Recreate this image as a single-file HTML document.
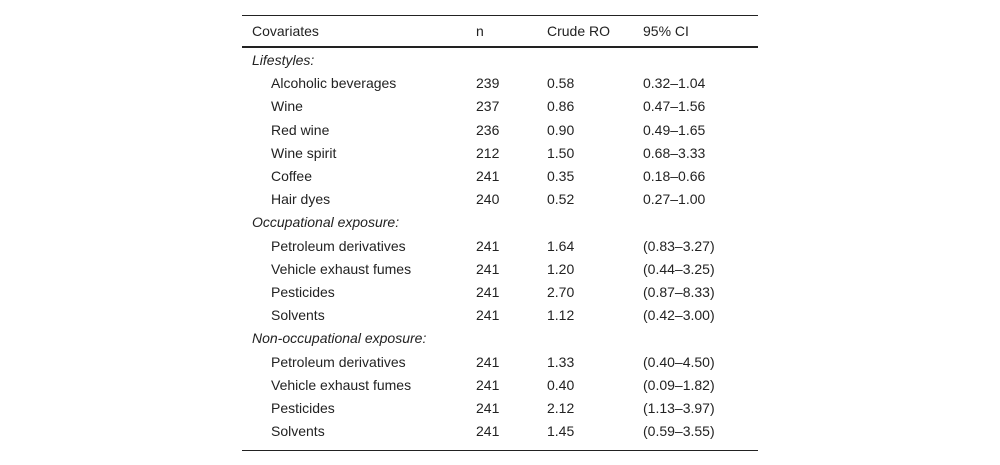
<!DOCTYPE html>
<html><head><meta charset="utf-8"><style>
body{margin:0;width:1000px;height:465px;background:#fff;font-family:"Liberation Sans",sans-serif;font-size:14px;color:#222;position:relative;overflow:hidden}
.l{position:absolute;left:242px;width:516px;background:#222}
.r{position:absolute;left:0;width:1000px;height:23px;line-height:23px}
.r span{position:absolute;white-space:nowrap}
.c0{left:252px}.c0i{left:271px}.c1{left:476px}.c2{left:547px}.c3{left:643px}
i{font-style:italic}
</style></head><body>
<div class="l" style="top:15px;height:1px"></div>
<div class="l" style="top:46px;height:2px"></div>
<div class="l" style="top:450px;height:1px"></div>
<div class="r" style="top:20px"><span class="c0">Covariates</span><span class="c1">n</span><span class="c2">Crude RO</span><span class="c3">95% CI</span></div>
<div id="rows"></div>
<script>
const rows=[
["g","Lifestyles:"],
["Alcoholic beverages","239","0.58","0.32–1.04"],
["Wine","237","0.86","0.47–1.56"],
["Red wine","236","0.90","0.49–1.65"],
["Wine spirit","212","1.50","0.68–3.33"],
["Coffee","241","0.35","0.18–0.66"],
["Hair dyes","240","0.52","0.27–1.00"],
["g","Occupational exposure:"],
["Petroleum derivatives","241","1.64","(0.83–3.27)"],
["Vehicle exhaust fumes","241","1.20","(0.44–3.25)"],
["Pesticides","241","2.70","(0.87–8.33)"],
["Solvents","241","1.12","(0.42–3.00)"],
["g","Non-occupational exposure:"],
["Petroleum derivatives","241","1.33","(0.40–4.50)"],
["Vehicle exhaust fumes","241","0.40","(0.09–1.82)"],
["Pesticides","241","2.12","(1.13–3.97)"],
["Solvents","241","1.45","(0.59–3.55)"]];
const c=document.getElementById('rows');
rows.forEach((r,i)=>{
 const d=document.createElement('div');d.className='r';d.style.top=(49+i*23.2)+'px';
 
 
 if(r[0]==='g'){d.innerHTML='<span class="c0"><i>'+r[1]+'</i></span>';}
 else{d.innerHTML='<span class="c0i">'+r[0]+'</span><span class="c1">'+r[1]+'</span><span class="c2">'+r[2]+'</span><span class="c3">'+r[3]+'</span>';}
 c.appendChild(d);
});
</script>
</body></html>
